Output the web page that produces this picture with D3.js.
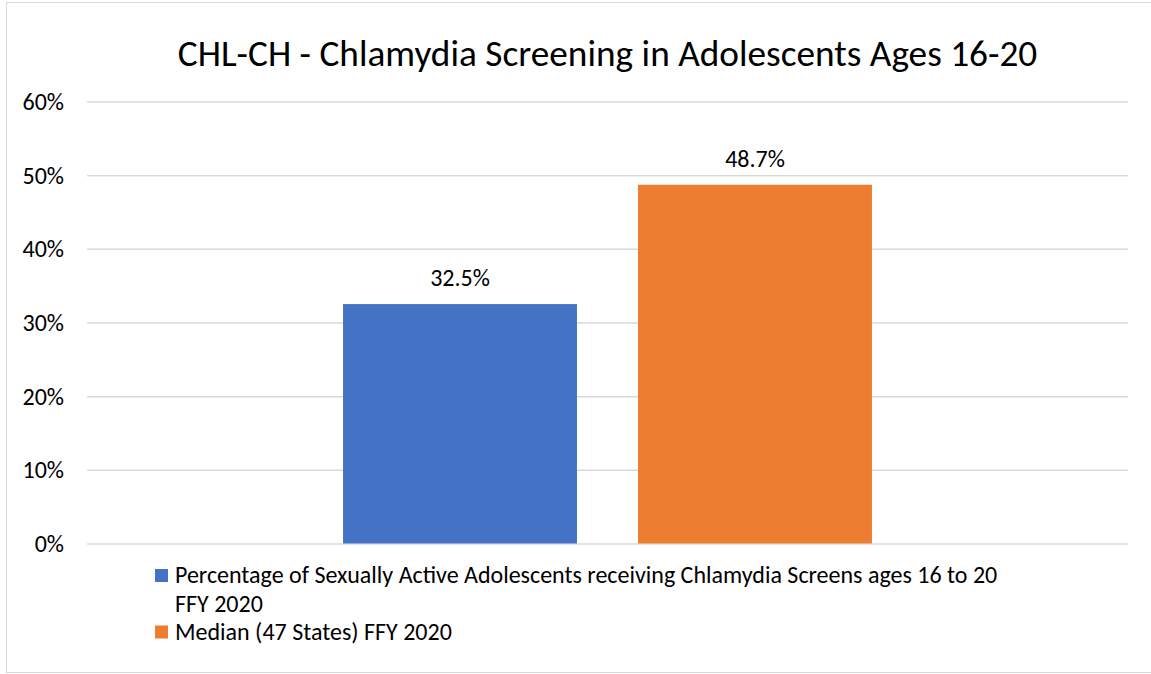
<!DOCTYPE html>
<html>
<head>
<meta charset="utf-8">
<script src="https://cdn.jsdelivr.net/npm/d3@7"></script>
<style>
  body { margin: 0; background: #fff; }
  text { font-family: Calibri, Carlito, "Open Sans", sans-serif; fill: #000; }
</style>
</head>
<body>
<svg id="chart"></svg>
<script>
(function() {

var title = "CHL-CH - Chlamydia Screening in Adolescents Ages 16-20";
var series = ["Percentage of Sexually Active Adolescents receiving Chlamydia Screens ages 16 to 20 FFY 2020",
              "Median (47 States) FFY 2020"];
var legendLines = [["Percentage of Sexually Active Adolescents receiving Chlamydia Screens ages 16 to 20", "FFY 2020"],
                   ["Median (47 States) FFY 2020"]];
var values = [0.325, 0.487];
var colors = ["#4472C4", "#ED7D31"];
var yTicks = [0, 0.1, 0.2, 0.3, 0.4, 0.5, 0.6];

var width = 1151, height = 674;
var margin = {top: 101.5, right: 23, bottom: 130.5, left: 87};
var innerW = width - margin.left - margin.right,
    innerH = height - margin.top - margin.bottom;

var svg = d3.select("#chart")
    .attr("width", width)
    .attr("height", height);

// outer chart border
svg.append("rect")
  .attr("x", 6.5).attr("y", 2.5)
  .attr("width", width + 10).attr("height", 670)
  .attr("fill", "none")
  .attr("stroke", "#D9D9D9");

svg.append("text")
  .attr("x", margin.left + innerW / 2)
  .attr("y", 66)
  .attr("text-anchor", "middle")
  .style("font-size", "37.3px")
  .text(title);

var g = svg.append("g").attr("transform", "translate(" + margin.left + "," + margin.top + ")");

var y = d3.scaleLinear().domain([0, 0.6]).range([innerH, 0]);
var x = d3.scaleBand()
  .domain(series)
  .range([0, innerW])
  .paddingInner(0.207)
  .paddingOuter(0.868);

var yAxis = g.append("g")
  .call(d3.axisLeft(y).tickValues(yTicks).tickFormat(d3.format(".0%")).tickSize(-innerW).tickPadding(23));
yAxis.select(".domain").remove();
yAxis.selectAll(".tick line").attr("stroke", "#D9D9D9").attr("stroke-width", 1.5);
yAxis.selectAll(".tick text")
  .style("font-size", "24px")
  .style("font-family", "Calibri, Carlito, 'Open Sans', sans-serif")
  .attr("fill", "#000")
  .attr("dy", "0.33em");

g.selectAll(".bar")
  .data(values)
  .enter().append("rect")
    .attr("class", "bar")
    .attr("x", function(d, i) { return x(series[i]); })
    .attr("y", function(d) { return y(d); })
    .attr("width", x.bandwidth())
    .attr("height", function(d) { return innerH - y(d); })
    .attr("fill", function(d, i) { return colors[i]; });

g.selectAll(".label")
  .data(values)
  .enter().append("text")
    .attr("class", "label")
    .attr("x", function(d, i) { return x(series[i]) + x.bandwidth() / 2; })
    .attr("y", function(d) { return y(d) - 18; })
    .attr("text-anchor", "middle")
    .style("font-size", "24px")
    .text(function(d) { return d3.format(".1%")(d); });

// legend
var legendTop = [569, 625.5];
var legend = svg.selectAll(".legend")
  .data(legendLines)
  .enter().append("g")
    .attr("class", "legend")
    .attr("transform", function(d, i) { return "translate(155," + legendTop[i] + ")"; });

legend.append("rect")
  .attr("width", 13).attr("height", 13)
  .attr("fill", function(d, i) { return colors[i]; });

legend.selectAll("text")
  .data(function(d) { return d; })
  .enter().append("text")
    .attr("x", 20)
    .attr("y", function(d, j) { return 14 + j * 29; })
    .style("font-size", "24px")
    .text(function(d) { return d; });

})();
</script>
</body>
</html>
